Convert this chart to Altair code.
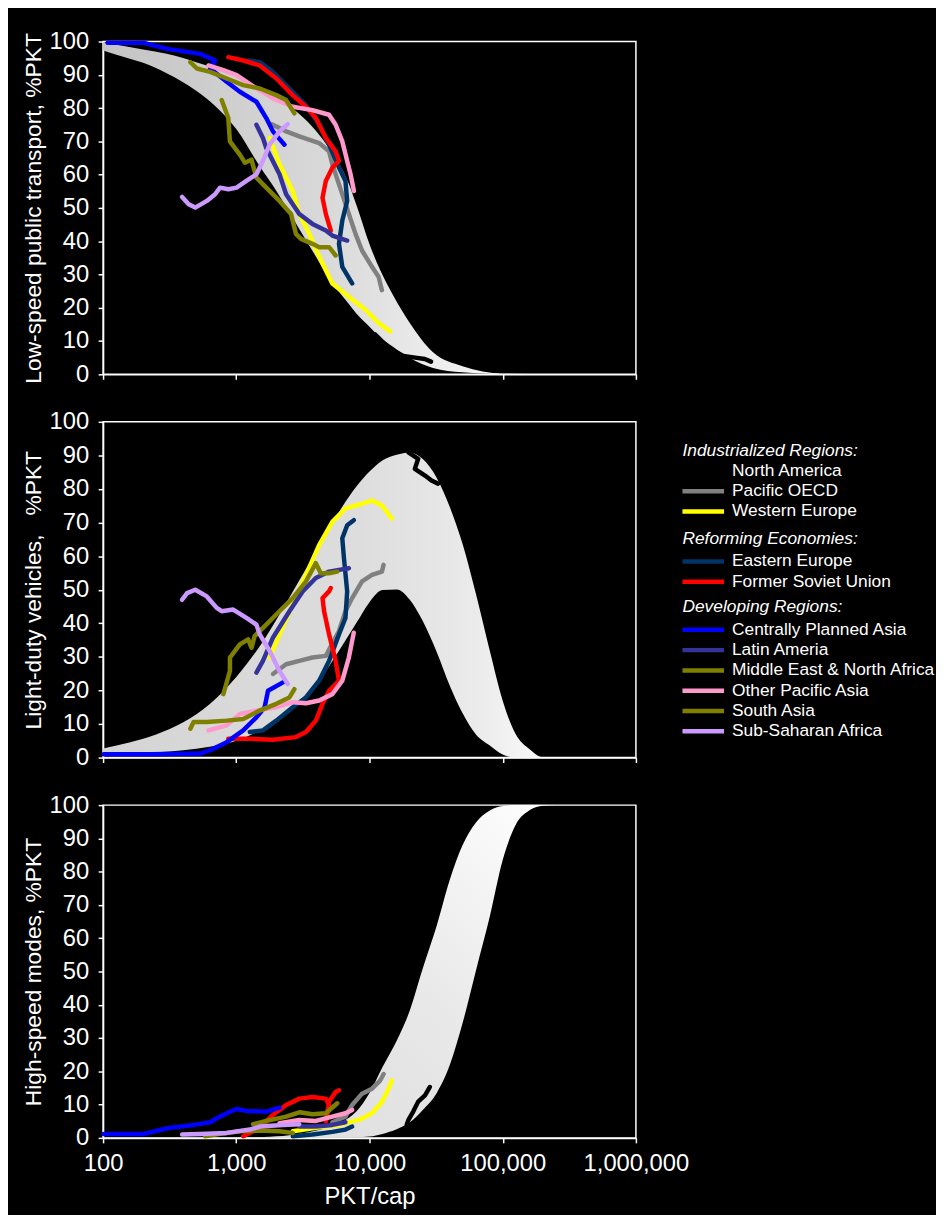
import altair as alt
import pandas as pd

FONT = "Liberation Sans"

REGIONS = ["North America", "Pacific OECD", "Western Europe", "Eastern Europe",
           "Former Soviet Union", "Centrally Planned Asia", "Latin Ameria",
           "Middle East & North Africa", "Other Pacific Asia", "South Asia",
           "Sub-Saharan Africa"]
COLORS = ["#000000", "#808080", "#FFFF00", "#003366", "#FF0000", "#0000FF",
          "#333399", "#808000", "#FF99CC", "#808000", "#CC99FF"]
GROUPS = ["Industrialized Regions:", "Reforming Economies:", "Developing Regions:"]
GROUP_OF = [0, 0, 0, 1, 1, 2, 2, 2, 2, 2, 2]

X_TICKS = [100, 1000, 10000, 100000, 1000000]
Y_TICKS = [0, 10, 20, 30, 40, 50, 60, 70, 80, 90, 100]

TITLES = ["Low-speed public transport, %PKT",
          "Light-duty vehicles,\u00a0\u00a0\u00a0%PKT",
          "High-speed modes, %PKT"]

# ---------------- bands (upper / lower envelope) ----------------
BAND1_X = [100, 150, 200, 300, 500, 700, 1000, 1500, 2000, 3000, 4000, 5000, 7000,
           8000, 10000, 12000, 15000, 20000, 30000, 50000, 100000, 200000]
BAND1_HI = [99.8, 98.5, 97.6, 96.3, 93.8, 91.9, 89.5, 86.1, 83.2, 78.1, 73.0, 67.8, 57.2,
            50.7, 39.1, 31.4, 23.8, 15.5, 6.6, 2.4, 0.2, 0.0]
BAND1_LO = [97.3, 95.1, 93.6, 90.5, 85.2, 80.5, 73.7, 62.5, 55.1, 43.4, 35.1, 28.7, 21.1,
            18.2, 14.3, 11.1, 8.3, 5.0, 1.9, 0.6, 0.05, 0.0]

BAND2_X = [100, 160, 250, 400, 630, 1000, 1600, 2500, 4000, 6300, 8000, 10000, 12500,
           16000, 20000, 25000, 32000, 40000, 50000, 63000, 80000, 100000, 125000,
           160000, 200000, 320000]
BAND2_HI = [2.7, 4.6, 6.9, 10.5, 15.9, 24.0, 34.8, 47.6, 61.6, 74.9, 80.8, 85.2, 88.5,
            90.2, 90.9, 89.0, 83.3, 74.7, 63.6, 48.7, 31.8, 16.9, 7.0, 2.4, 0.1, 0.0]
BAND2_LO = [1.2, 1.4, 1.6, 2.2, 3.2, 5.0, 8.8, 14.5, 22.0, 33.6, 40.2, 46.3, 49.9,
            50.1, 47.1, 40.8, 31.4, 21.5, 13.2, 6.9, 3.6, 0.9, 0.0, 0.0, 0.0, 0.0]

BAND3_X = [1000, 1600, 2500, 4000, 6300, 8000, 10000, 12500, 16000, 20000, 25000,
           32000, 40000, 50000, 63000, 80000, 100000, 125000, 160000, 200000, 250000]
BAND3_HI = [0.1, 0.3, 0.8, 2.2, 4.9, 8.0, 13.5, 21.2, 29.2, 38.1, 50.7,
            63.8, 77.5, 88.0, 94.8, 98.4, 99.7, 100, 100, 100, 100]
BAND3_LO = [0.0, 0.0, 0.0, 0.0, 0.1, 0.2, 0.4, 1.2, 2.6, 4.6, 8.3,
            13.5, 21.8, 34.5, 50.3, 66.5, 83.5, 94.0, 98.5, 99.8, 100]

# ---------------- low-speed public transport ----------------
LOW_NA = [(11000, 12), (12000, 10.5), (13500, 8.5), (15500, 6.8), (18000, 5.5),
          (22000, 5.0), (26000, 4.6), (29000, 3.8)]
LOW_POECD = [(1830, 75.2), (2370, 73.0), (2970, 71.5), (4190, 69.5), (4970, 67.0),
             (5260, 63.1), (5900, 57.1), (7000, 48.2), (7850, 42.2), (8790, 37.2),
             (10440, 32.3), (11700, 29.3), (12390, 25.3)]
LOW_WE = [(1780, 71.0), (2110, 63.1), (2650, 55.1), (2970, 48.2), (3530, 42.2),
          (4190, 35.3), (5260, 27.3), (7000, 23.3), (9310, 19.4), (11700, 15.4),
          (14290, 12.9)]
LOW_EE = [(1230, 94.3), (1500, 93.8), (1880, 90.9), (2650, 84.9), (3330, 80.9),
          (4190, 75.0), (4970, 69.0), (5900, 62.1), (6600, 58.1), (6800, 52.1),
          (6250, 46.2), (5900, 39.2), (6250, 32.3), (7410, 27.3)]
LOW_FSU = [(871, 95.3), (1130, 94.3), (1500, 92.8), (2000, 88.9), (2650, 83.9),
           (3330, 80.4), (3960, 77.0), (4700, 71.0), (5570, 67.0), (5900, 64.1),
           (5260, 62.1), (4700, 58.1), (4440, 53.1), (4700, 48.2), (5120, 43.2)]
LOW_CPA = [(108, 99.6), (203, 99.6), (303, 97.8), (536, 96.3), (693, 94.3),
           (637, 91.9), (847, 87.9), (1064, 84.9), (1416, 81.9), (1679, 77.0),
           (1884, 73.0), (2300, 69.0)]
LOW_LA = [(1416, 75.0), (1585, 71.0), (1679, 68.0), (2110, 60.1), (2366, 54.1),
          (2972, 48.2), (3730, 45.2), (4700, 43.2), (5260, 41.7), (6800, 40.2)]
LOW_MENA = [(777, 82.4), (871, 77.0), (896, 70.0), (1064, 66.0), (1159, 63.6),
            (1300, 64.5), (1416, 59.1), (1679, 56.1), (2110, 52.1), (2576, 48.2),
            (2805, 42.2), (3062, 40.7), (3730, 39.2), (4188, 38.2), (4970, 38.2),
            (5570, 35.7)]
LOW_OPA = [(618, 92.8), (800, 91.4), (1005, 89.9), (1416, 85.9), (1884, 82.9),
           (2654, 80.4), (3730, 79.4), (4970, 78.0), (5570, 75.0), (6250, 70.0),
           (6800, 64.1), (7210, 60.1), (7640, 55.1)]
LOW_SA = [(452, 93.8), (506, 91.9), (637, 90.9), (847, 88.9), (1127, 86.9),
          (1500, 85.9), (1995, 83.9), (2366, 82.4), (2730, 78.4)]
LOW_SSA = [(392, 53.3), (439, 51.1), (492, 50.1), (601, 52.1), (693, 54.1),
           (755, 56.1), (871, 55.6), (1005, 56.1), (1191, 58.1), (1416, 60.1),
           (1585, 64.1), (1778, 69.0), (2110, 73.0), (2432, 75.2)]

# ---------------- light-duty vehicles ----------------
LDV_NA = [(19600, 90.9), (23200, 89.0), (21900, 86.0), (26100, 84.0), (29200, 82.5),
          (32700, 81.6)]
LDV_POECD = [(1884, 24.9), (2366, 27.8), (2972, 28.8), (3730, 29.8), (4700, 30.3),
             (5900, 37.7), (6600, 43.6), (7410, 47.5), (8790, 52.5), (10440, 54.4),
             (12390, 55.4), (12760, 57.4)]
LDV_WE = [(1778, 29.8), (2110, 36.7), (2654, 45.6), (3334, 54.4), (4188, 63.3),
          (5260, 70.2), (6600, 74.2), (8790, 75.6), (10440, 76.6), (12390, 75.1),
          (14720, 71.2)]
LDV_EE = [(1262, 7.6), (1585, 8.1), (1995, 11.0), (2654, 15.0), (3334, 17.9),
          (4188, 22.9), (4970, 28.8), (5900, 36.7), (6600, 41.6), (6800, 49.5),
          (6430, 59.4), (6250, 65.3), (6800, 69.2), (7620, 70.7)]
LDV_FSU = [(871, 5.6), (1262, 5.6), (1884, 5.3), (2805, 6.1), (3334, 7.6),
           (3955, 11.0), (4440, 16.0), (4970, 19.9), (5900, 22.9), (5570, 28.8),
           (4970, 36.7), (4560, 43.6), (4440, 47.5), (4970, 49.5), (5120, 50.5)]
LDV_CPA = [(101, 1.0), (228, 1.0), (536, 1.2), (637, 2.2), (847, 4.6), (1127, 8.1),
           (1416, 12.0), (1633, 15.0), (1730, 19.9), (2240, 22.4)]
LDV_LA = [(1416, 25.3), (1585, 28.8), (1884, 35.7), (2506, 43.6), (3150, 49.5),
          (3955, 53.5), (4970, 55.4), (5900, 55.9), (7000, 56.4)]
LDV_MENA = [(800, 18.9), (896, 25.8), (896, 29.8), (1064, 33.7), (1228, 35.2),
            (1300, 32.7), (1374, 36.2), (1679, 39.6), (2110, 43.6), (2654, 47.5),
            (3334, 52.5), (3955, 57.9), (4305, 54.9), (4970, 54.9), (5730, 55.4)]
LDV_OPA = [(618, 8.1), (847, 9.6), (1064, 13.0), (1416, 14.0), (1995, 15.0),
           (2654, 16.5), (3334, 16.2), (4188, 17.0), (5260, 18.9), (6250, 22.9),
           (7000, 29.8), (7620, 37.2)]
LDV_SA = [(452, 8.6), (478, 10.6), (601, 10.6), (847, 11.0), (1127, 11.5),
          (1500, 14.0), (1995, 16.0), (2506, 17.9), (2730, 20.4)]
LDV_SSA = [(392, 47.0), (427, 49.0), (492, 50.0), (601, 48.0), (713, 44.6),
           (777, 43.6), (948, 44.1), (1191, 41.6), (1416, 39.6), (1500, 36.7),
           (1778, 31.8), (2110, 25.8), (2432, 21.9)]

# ---------------- high-speed modes ----------------
HS_NA = [(19000, 3.9), (19600, 5.4), (21300, 7.9), (23200, 10.9), (26100, 12.8),
         (28400, 15.3)]
HS_POECD = [(5260, 4.7), (6600, 6.4), (7410, 9.9), (8790, 13.3), (10440, 14.8),
            (12050, 17.3), (12770, 19.2)]
HS_WE = [(2654, 2.0), (3955, 3.0), (5900, 3.9), (8310, 5.4), (10440, 7.4),
         (12390, 10.8), (13900, 14.8), (14720, 17.3)]
HS_EE = [(2654, 0.5), (3730, 1.0), (5260, 1.8), (6600, 2.5), (7410, 3.4)]
HS_FSU = [(1127, 0.5), (1500, 3.0), (1884, 6.9), (2366, 9.9), (2972, 11.8),
          (3730, 12.3), (4700, 11.8), (4970, 9.9), (4700, 4.9), (4970, 10.9),
          (5570, 13.8), (5900, 14.3)]
HS_CPA = [(101, 1.2), (203, 1.2), (303, 2.9), (478, 3.9), (637, 4.7), (713, 5.9),
          (847, 7.4), (1005, 8.7), (1191, 8.1), (1679, 7.9), (2110, 9.1)]
HS_LA = [(2972, 3.4), (3955, 3.4), (5260, 3.9), (6600, 4.7)]
HS_MENA = [(1336, 4.1), (1679, 5.1), (2366, 6.4), (2972, 7.7), (3730, 7.1),
           (4700, 7.4), (5730, 10.4)]
HS_OPA = [(2110, 4.4), (2972, 5.4), (3955, 5.1), (5260, 6.4), (6600, 7.4),
          (7410, 8.4)]
HS_SA = [(583, 0.5), (755, 1.2), (1064, 2.0), (1500, 2.2), (2110, 2.0), (2654, 1.5)]
HS_SSA = [(392, 1.0), (536, 1.2), (847, 1.5), (1262, 2.5), (1500, 3.4), (2234, 3.9),
          (2972, 4.1)]

LOW_LINES = [LOW_NA, LOW_POECD, LOW_WE, LOW_EE, LOW_FSU, LOW_CPA, LOW_LA, LOW_MENA,
             LOW_OPA, LOW_SA, LOW_SSA]
LDV_LINES = [LDV_NA, LDV_POECD, LDV_WE, LDV_EE, LDV_FSU, LDV_CPA, LDV_LA, LDV_MENA,
             LDV_OPA, LDV_SA, LDV_SSA]
HS_LINES = [HS_NA, HS_POECD, HS_WE, HS_EE, HS_FSU, HS_CPA, HS_LA, HS_MENA,
            HS_OPA, HS_SA, HS_SSA]

PLOT_W = 538


def gradient(stops, x1=0, y1=0, x2=1, y2=0):
    return {"gradient": "linear", "x1": x1, "y1": y1, "x2": x2, "y2": y2,
            "stops": [{"offset": o, "color": c} for o, c in stops]}


def lines_df(series):
    rows = []
    for name, pts in zip(REGIONS, series):
        for i, (x, y) in enumerate(pts):
            rows.append({"region": name, "x": x, "y": y, "i": i})
    return pd.DataFrame(rows)


def panel(bx, bhi, blo, fill, series, title, height, bottom):
    xscale = alt.Scale(type="log", domain=[100, 1000000], nice=False)
    yscale = alt.Scale(domain=[0, 100], nice=False)
    if bottom:
        xaxis = alt.Axis(values=X_TICKS, format=",", labelPadding=9, titlePadding=9,
                         labelFlush=False, labelOverlap=False, labelFontSize=24,
                         titleFontSize=24)
        xtitle = "PKT/cap"
    else:
        xaxis = alt.Axis(values=X_TICKS, labels=False)
        xtitle = ""
    yaxis = alt.Axis(values=Y_TICKS, labelPadding=9.5, titlePadding=4,
                     labelOverlap=False, labelFontSize=24, titleFontSize=23)

    band = alt.Chart(pd.DataFrame({"x": bx, "hi": bhi, "lo": blo})).mark_area(
        color=fill, opacity=1, interpolate="monotone"
    ).encode(
        x=alt.X("x:Q", scale=xscale, axis=xaxis, title=xtitle),
        y=alt.Y("hi:Q", scale=yscale, axis=yaxis, title=title),
        y2="lo:Q",
    )
    lines = alt.Chart(lines_df(series)).mark_line(
        strokeWidth=4.5, strokeCap="round", strokeJoin="round"
    ).encode(
        x=alt.X("x:Q", scale=xscale, axis=xaxis, title=xtitle),
        y=alt.Y("y:Q", scale=yscale, axis=yaxis, title=title),
        color=alt.Color("region:N", scale=alt.Scale(domain=REGIONS, range=COLORS),
                        legend=None),
        detail="region:N",
        order="i:Q",
    )
    return alt.layer(band, lines).properties(width=PLOT_W, height=height)


# legend rows (header rows and item rows)
leg_rows = []
row = 0
for g, header in enumerate(GROUPS):
    leg_rows.append({"label": header, "kind": "header", "color": "#FFFFFF",
                     "ly": 29 + 20.5 * row + 7.5 * g})
    row += 1
    for name, col, gg in zip(REGIONS, COLORS, GROUP_OF):
        if gg == g:
            leg_rows.append({"label": name, "kind": "item", "color": col,
                             "ly": 29 + 20.5 * row + 7.5 * g + (2 if g > 0 else 0)})
            row += 1
leg = pd.DataFrame(leg_rows)

leg_head = alt.Chart(leg).transform_filter(alt.datum.kind == "header").mark_text(
    align="left", baseline="middle", font=FONT, fontSize=17.5, fontStyle="italic",
    color="white"
).encode(x=alt.value(585), y=alt.Y("ly:Q", scale=None, axis=None), text="label:N")
leg_text = alt.Chart(leg).transform_filter(alt.datum.kind == "item").mark_text(
    align="left", baseline="middle", font=FONT, fontSize=17.5, color="white"
).encode(x=alt.value(635), y=alt.Y("ly:Q", scale=None, axis=None), text="label:N")
leg_line = alt.Chart(leg).transform_filter(alt.datum.kind == "item").mark_rule(
    strokeWidth=4.5
).encode(x=alt.value(585), x2=alt.value(627), y=alt.Y("ly:Q", scale=None, axis=None),
         color=alt.Color("color:N", scale=None, legend=None))

p1 = panel(BAND1_X, BAND1_HI, BAND1_LO,
           gradient([(0, "#c4c4c4"), (0.5, "#d8d8d8"), (0.8, "#f0f0f0"), (1, "#ffffff")]),
           LOW_LINES, TITLES[0], 336, False)
p2 = alt.layer(
    panel(BAND2_X, BAND2_HI, BAND2_LO,
          gradient([(0, "#d4d4d4"), (0.55, "#dddddd"), (0.8, "#ebebeb"), (1, "#ffffff")]),
          LDV_LINES, TITLES[1], 339, False),
    leg_line, leg_head, leg_text,
).resolve_scale(y="independent", x="independent", color="independent")
p3 = panel(BAND3_X, BAND3_HI, BAND3_LO,
           gradient([(0, "#dcdcdc"), (0.5, "#e8e8e8"), (1, "#ffffff")], 0, 1, 1, 0),
           HS_LINES, TITLES[2], 336, True)

chart = alt.vconcat(p1, p2, p3, spacing=48, bounds="flush").properties(
    padding={"left": 13, "top": 15, "right": 0, "bottom": 0}
).configure(background="black").configure_view(
    stroke="white", strokeWidth=1.5
).configure_axis(
    domainColor="white", domainWidth=1.5, tickColor="white", tickWidth=1.5, tickSize=5,
    labelColor="white", titleColor="white", labelFont=FONT, titleFont=FONT,
    titleFontWeight="normal", grid=False
)

chart.save("out.html", embed_options={"renderer": "svg", "actions": False})
